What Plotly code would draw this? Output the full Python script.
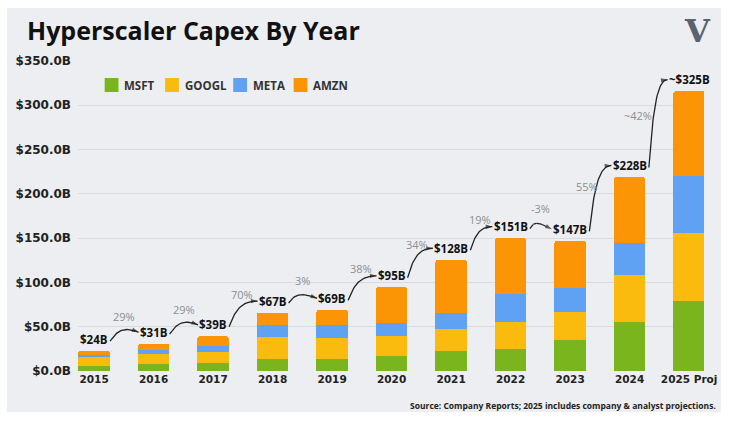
import plotly.graph_objects as go

# ---------------- data ----------------
years = ["2015", "2016", "2017", "2018", "2019", "2020", "2021", "2022", "2023", "2024", "2025 Proj"]
msft = [5.9, 8.3, 8.6, 13.5, 13, 17, 22.6, 24.5, 35, 55, 79]
googl = [9.9, 10.5, 13, 25, 24, 23, 25, 31, 32, 53, 77]
meta = [2.5, 4.5, 6.5, 14, 15, 14, 18, 32, 27, 37, 64]
amzn = [4.6, 7.5, 11, 13.5, 17, 40.5, 60, 62.5, 53, 74, 96]
total_labels = ["$24B", "$31B", "$39B", "$67B", "$69B", "$95B", "$128B", "$151B", "$147B", "$228B", "~$325B"]
growth_labels = ["29%", "29%", "70%", "3%", "38%", "34%", "19%", "-3%", "55%", "~42%"]
y_ticks = [0, 50, 100, 150, 200, 250, 300, 350]

series = [("MSFT", msft, "#7ab51d"), ("GOOGL", googl, "#fbbb0e"),
          ("META", meta, "#5fa2f3"), ("AMZN", amzn, "#fb9506")]

FONT = "Open Sans"
TICKFONT = "DejaVu Sans"
# geometry of plot area (px)
L, R, T, B = 78, 17, 61, 51
W, H = 729, 422
XR = [-0.27, 10.25]
YR = [0, 350]
XS = (W - L - R) / (XR[1] - XR[0])
YS = (H - T - B) / (YR[1] - YR[0])


def px_x(p):
    return (p - L) / (W - L - R)


def px_y(p):
    return (H - B - p) / (H - T - B)


idx = list(range(len(years)))
fig = go.Figure()
for name, vals, col in series:
    fig.add_trace(go.Bar(x=idx, y=vals, name=name, marker_color=col,
                         marker_line_width=0, width=0.53, showlegend=False))

tops = [sum(v) for v in zip(msft, googl, meta, amzn)]
label_y = [t + 13 for t in tops]
half_w = [(len(s) * 6.6 / 2 + 1) / XS for s in total_labels]

# total labels
for i, s in enumerate(total_labels):
    fig.add_annotation(x=i, y=label_y[i], text=f"<b>{s}</b>", showarrow=False,
                       font=dict(family=FONT, size=11.5, color="#111"))


# curved connectors
def bez(p0, p1, p2, p3, n=30):
    pts = []
    for k in range(n + 1):
        t = k / n
        a = (1 - t) ** 3; b = 3 * (1 - t) ** 2 * t; c = 3 * (1 - t) * t ** 2; d = t ** 3
        pts.append((a * p0[0] + b * p1[0] + c * p2[0] + d * p3[0],
                    a * p0[1] + b * p1[1] + c * p2[1] + d * p3[1]))
    return pts


for i, g in enumerate(growth_labels):
    x0 = (i + half_w[i]) * XS + 2; y0 = label_y[i] * YS - 2
    x3 = (i + 1 - half_w[i + 1]) * XS - 1; y3 = label_y[i + 1] * YS
    dx = x3 - x0; dy = y3 - y0
    p1 = (x0 + 0.2 * dx, y0 + max(0.6 * dy, 8))
    p2 = (x3 - 0.6 * dx, y3 + (7 if dy < 15 else 0))
    pts = bez((x0, y0), p1, p2, (x3, y3))
    xs = [p[0] / XS for p in pts]; ys = [p[1] / YS for p in pts]
    sizes = [0] * (len(pts) - 1) + [7]
    fig.add_trace(go.Scatter(x=xs, y=ys, mode="lines+markers", showlegend=False,
                             hoverinfo="skip", line=dict(color="#222", width=1.3),
                             marker=dict(symbol="arrow", size=sizes, angleref="previous",
                                         color="#222", line_width=0)))
    steep = max(0, dy - 20)
    fig.add_annotation(x=(x0 + x3) / 2 / XS, y=(y0 + y3) / 2 / YS, text=g, showarrow=False,
                       xshift=-0.3 * steep, yshift=20 - 0.18 * steep,
                       font=dict(family=FONT, size=11, color="#8b8e93"))

# manual legend
lx = 105
for name, _, col in series:
    fig.add_shape(type="rect", xref="paper", yref="paper", x0=px_x(lx), x1=px_x(lx + 14),
                  y0=px_y(92), y1=px_y(78), fillcolor=col, line_width=0)
    fig.add_annotation(xref="paper", yref="paper", x=px_x(lx + 18), y=px_y(85),
                       text=f"<b>{name}</b>", showarrow=False, xanchor="left", yanchor="middle",
                       font=dict(family=FONT, size=11.5, color="#333"))
    lx += 18 + len(name) * 7.8 + 12

# title, source, logo
fig.add_annotation(xref="paper", yref="paper", x=px_x(24), y=px_y(30), text="<b>Hyperscaler Capex By Year</b>",
                   showarrow=False, xanchor="left", yanchor="middle",
                   font=dict(family=FONT, size=25, color="#111"))
fig.add_annotation(xref="paper", yref="paper", x=px_x(726), y=px_y(406),
                   text="<b>Source: Company Reports; 2025 includes company & analyst projections.</b>",
                   showarrow=False, xanchor="right", yanchor="middle",
                   font=dict(family=FONT, size=8.5, color="#222"))
fig.add_annotation(xref="paper", yref="paper", x=px_x(705), y=px_y(31), text="<b>V</b>",
                   showarrow=False, xanchor="center", yanchor="middle",
                   font=dict(family="DejaVu Serif", size=32, color="#5a6170"))

# grey panel
fig.add_shape(type="rect", xref="paper", yref="paper", x0=px_x(6), x1=px_x(729),
              y0=px_y(412), y1=px_y(8), fillcolor="#eceef1", line_width=0, layer="below")

fig.update_layout(
    width=W, height=H, barmode="stack", barcornerradius=3,
    margin=dict(l=L, r=R, t=T, b=B),
    paper_bgcolor="white", plot_bgcolor="rgba(0,0,0,0)",
    font=dict(family=FONT, color="#222"),
    showlegend=False,
    xaxis=dict(range=XR, tickvals=idx, ticktext=years, showgrid=False, zeroline=False,
               tickfont=dict(family=TICKFONT, size=10.5, color="#222", weight="bold")),
    yaxis=dict(range=YR, tickvals=y_ticks, ticktext=[f"${v:.1f}B" for v in y_ticks],
               gridcolor="#d9dbdf", gridwidth=1, zeroline=False, ticklabelstandoff=6,
               tickfont=dict(family=TICKFONT, size=12, color="#222", weight="bold")),
)
fig.write_html("out.html")
